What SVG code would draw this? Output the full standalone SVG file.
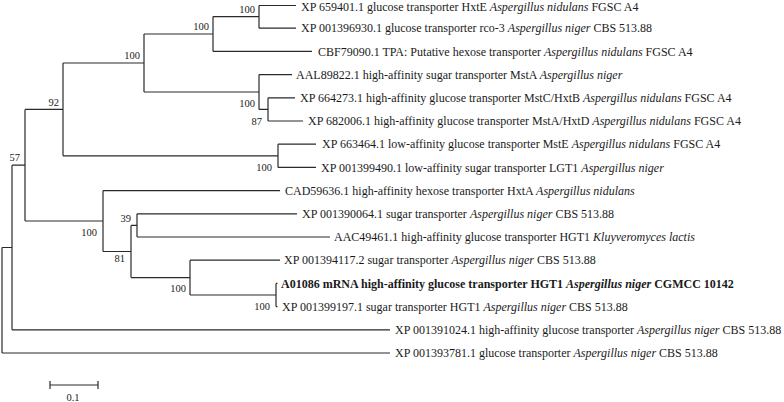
<svg xmlns="http://www.w3.org/2000/svg" width="784" height="402" viewBox="0 0 784 402">
<style>
.br{fill:none;stroke:#2a2a2a;stroke-width:1.2}
.lf{font-family:"Liberation Serif","Times New Roman",serif;font-size:12px;fill:#1a1a1a}
.bs{font-family:"Liberation Serif","Times New Roman",serif;font-size:10.5px;fill:#1a1a1a;text-anchor:end}
.i{font-style:italic}
.b{font-weight:bold}
</style>
<rect width="784" height="402" fill="#fff"/>
<g id="connectors" class="br">
<path d="M2,247.5V353M2,247.5H12M2,353H390"/>
<path d="M12,165.2V329.8M12,165.2H25M12,329.8H390"/>
<path d="M25,109.4V221M25,109.4H63M25,221H103"/>
<path d="M63,63V155.8M63,63H144M63,155.8H278"/>
<path d="M144,34V92M144,34H213M144,92H259"/>
<path d="M213,16.6V51.4M213,16.6H259M213,51.4H312"/>
<path d="M259,5.5V28.2M259,5.5H296M259,28.2H296"/>
<path d="M259,74.6V109.4M259,74.6H292M259,109.4H268"/>
<path d="M268,97.8V121M268,97.8H295M268,121H303"/>
<path d="M278,144.2V167.4M278,144.2H316M278,167.4H316"/>
<path d="M103,190.6V251.5M103,190.6H280M103,251.5H131"/>
<path d="M131,225.4V277.6M131,225.4H137M131,277.6H190"/>
<path d="M137,213.8V237M137,213.8H297M137,237H330"/>
<path d="M190,260.2V295M190,260.2H280M190,295H276"/>
<path d="M276,283.4V306.6M276,283.4H277.5M276,306.6H277.5"/>
</g>
<g id="bootstrap">
<text id="n-G" class="bs" x="255" y="13">100</text>
<text id="n-E" class="bs" x="209" y="30">100</text>
<text id="n-C" class="bs" x="140" y="59">100</text>
<text id="n-92" class="bs" x="59" y="106">92</text>
<text id="n-F" class="bs" x="255" y="107">100</text>
<text id="n-H" class="bs" x="262" y="125">87</text>
<text id="n-D" class="bs" x="272" y="171">100</text>
<text id="n-57" class="bs" x="20" y="161">57</text>
<text id="n-B" class="bs" x="97" y="236">100</text>
<text id="n-J" class="bs" x="131" y="222">39</text>
<text id="n-I" class="bs" x="125" y="262">81</text>
<text id="n-K" class="bs" x="186" y="292">100</text>
<text id="n-L" class="bs" x="270" y="310">100</text>
</g>
<g id="leaf0"><text class="lf" x="301" y="10.8">XP 659401.1 glucose transporter HxtE <tspan class="i">Aspergillus nidulans</tspan> FGSC A4</text></g>
<g id="leaf1"><text class="lf" x="301" y="32.4">XP 001396930.1 glucose transporter rco-3 <tspan class="i">Aspergillus niger</tspan> CBS 513.88</text></g>
<g id="leaf2"><text class="lf" x="318" y="55.6">CBF79090.1 TPA: Putative hexose transporter <tspan class="i">Aspergillus nidulans</tspan> FGSC A4</text></g>
<g id="leaf3"><text class="lf" x="296" y="78.8">AAL89822.1 high-affinity sugar transporter MstA <tspan class="i">Aspergillus niger</tspan></text></g>
<g id="leaf4"><text class="lf" x="300" y="102">XP 664273.1 high-affinity glucose transporter MstC/HxtB <tspan class="i">Aspergillus nidulans</tspan> FGSC A4</text></g>
<g id="leaf5"><text class="lf" x="308" y="125.2">XP 682006.1 high-affinity glucose transporter MstA/HxtD <tspan class="i">Aspergillus nidulans</tspan> FGSC A4</text></g>
<g id="leaf6"><text class="lf" x="322" y="148.4">XP 663464.1 low-affinity glucose transporter MstE <tspan class="i">Aspergillus nidulans</tspan> FGSC A4</text></g>
<g id="leaf7"><text class="lf" x="321" y="171.6">XP 001399490.1 low-affinity sugar transporter LGT1 <tspan class="i">Aspergillus niger</tspan></text></g>
<g id="leaf8"><text class="lf" x="285" y="194.8">CAD59636.1 high-affinity hexose transporter HxtA <tspan class="i">Aspergillus nidulans</tspan></text></g>
<g id="leaf9"><text class="lf" x="302" y="218">XP 001390064.1 sugar transporter <tspan class="i">Aspergillus niger</tspan> CBS 513.88</text></g>
<g id="leaf10"><text class="lf" x="334" y="241.2">AAC49461.1 high-affinity glucose transporter HGT1 <tspan class="i">Kluyveromyces lactis</tspan></text></g>
<g id="leaf11"><text class="lf" x="284" y="264.4">XP 001394117.2 sugar transporter <tspan class="i">Aspergillus niger</tspan> CBS 513.88</text></g>
<g id="leaf12"><text class="lf b" x="281" y="287.6">A01086 mRNA high-affinity glucose transporter HGT1 <tspan class="i">Aspergillus niger</tspan> CGMCC 10142</text></g>
<g id="leaf13"><text class="lf" x="282" y="310.8">XP 001399197.1 sugar transporter HGT1 <tspan class="i">Aspergillus niger</tspan> CBS 513.88</text></g>
<g id="leaf14"><text class="lf" x="395" y="334">XP 001391024.1 high-affinity glucose transporter <tspan class="i">Aspergillus niger</tspan> CBS 513.88</text></g>
<g id="leaf15"><text class="lf" x="395" y="357.2">XP 001393781.1 glucose transporter <tspan class="i">Aspergillus niger</tspan> CBS 513.88</text></g>
<g id="scale">
<path class="br" d="M50,385H98M50,381V389M98,381V389"/>
<text class="bs" x="73" y="401" style="text-anchor:middle">0.1</text>
</g>
</svg>
